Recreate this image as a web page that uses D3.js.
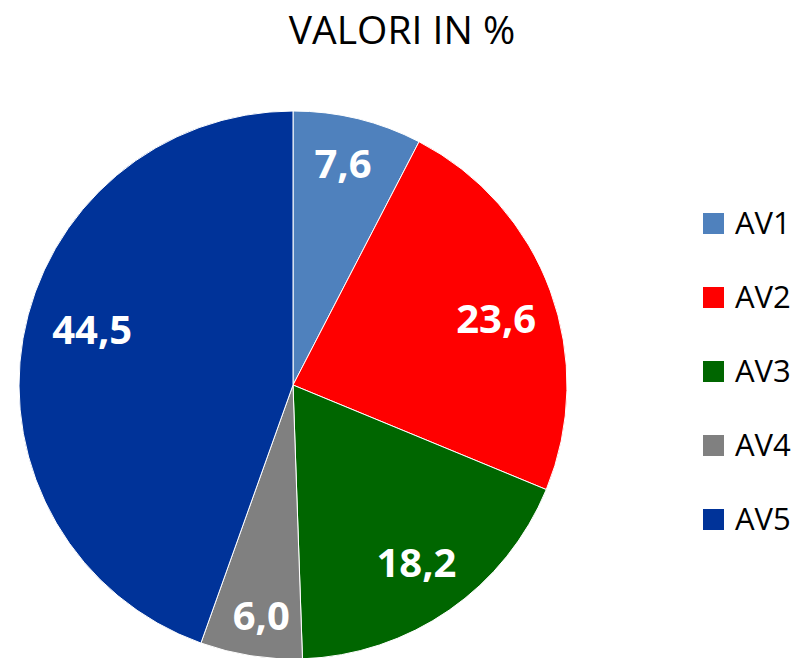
<!DOCTYPE html>
<html>
<head>
<meta charset="utf-8">
<script src="https://cdn.jsdelivr.net/npm/d3@7"></script>
<style>
  body { margin: 0; background: #fff; }
  svg { display: block; }
</style>
</head>
<body>
<div id="chart"></div>
<script>
// dati
const categories = ["AV1", "AV2", "AV3", "AV4", "AV5"];
const values = [7.6, 23.6, 18.2, 6.0, 44.5];
const labels = ["7,6", "23,6", "18,2", "6,0", "44,5"];
const colors = ["#4F81BD", "#FF0000", "#006600", "#808080", "#003399"];
const title = "VALORI IN %";

const width = 798;
const height = 658;
const cx = 293, cy = 385, radius = 274;

// posizione etichette (bestFit di Excel, aggiustato a occhio)
const labelRadius = [0.83, 0.78, 0.79, 0.85, 0.76];
const labelShift = [-1, 2, 0, -1, 5.5];

const svg = d3.select("#chart")
    .append("svg")
    .attr("width", width)
    .attr("height", height);

svg.append("text")
    .attr("x", 402)
    .attr("y", 44)
    .attr("text-anchor", "middle")
    .attr("font-family", "'Open Sans', sans-serif")
    .attr("font-size", 39)
    .attr("fill", "#000")
    .text(title);

const data = categories.map((c, i) => ({ name: c, value: values[i], label: labels[i], i }));

const pie = d3.pie()
    .sort(null)
    .value(d => d.value);
const arc = d3.arc().innerRadius(0).outerRadius(radius);

const g = svg.append("g").attr("transform", `translate(${cx},${cy})`);
const arcs = pie(data);

g.selectAll("path")
    .data(arcs)
    .enter()
    .append("path")
    .attr("d", arc)
    .attr("fill", d => colors[d.data.i])
    .attr("stroke", "#fff")
    .attr("stroke-width", 1);

g.selectAll("text")
    .data(arcs)
    .enter()
    .append("text")
    .attr("transform", d => {
        const a = (d.startAngle + d.endAngle) / 2 + labelShift[d.data.i] * Math.PI / 180;
        const r = radius * labelRadius[d.data.i];
        return `translate(${r * Math.sin(a)},${-r * Math.cos(a)})`;
    })
    .attr("text-anchor", "middle")
    .attr("dy", "0.36em")
    .attr("font-family", "'Open Sans', sans-serif")
    .attr("font-weight", "bold")
    .attr("font-size", 40)
    .attr("fill", "#fff")
    .text(d => d.data.label);

// legenda
const legend = svg.append("g").attr("transform", "translate(703,213)");
const item = legend.selectAll("g")
    .data(categories)
    .enter()
    .append("g")
    .attr("transform", (d, i) => `translate(0,${i * 74})`);
item.append("rect")
    .attr("width", 21)
    .attr("height", 21)
    .attr("fill", (d, i) => colors[i]);
item.append("text")
    .attr("x", 32)
    .attr("y", 21)
    .attr("font-family", "'Open Sans', sans-serif")
    .attr("font-size", 31)
    .attr("fill", "#000")
    .text(d => d);
</script>
</body>
</html>
